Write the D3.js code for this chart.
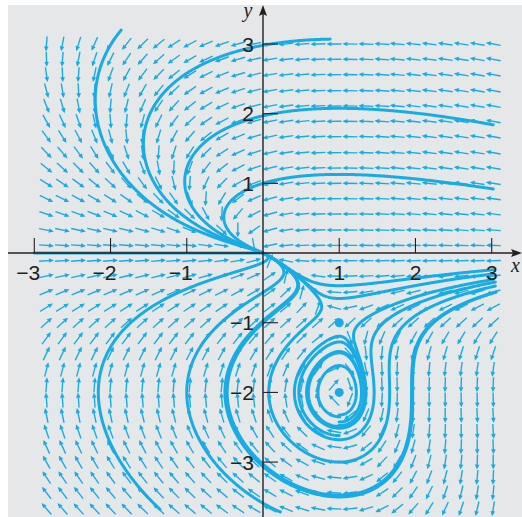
<!DOCTYPE html>
<html><head><meta charset="utf-8">
<script src="https://cdn.jsdelivr.net/npm/d3@7"></script>
<style>body{margin:0;background:#fff}svg{display:block}</style>
</head><body><svg id="c" width="522" height="517"></svg>
<script>
// ---- data ----
const xTicks = [-3, -2, -1, 1, 2, 3];
const yTicks = [-3, -2, -1, 1, 2, 3];
const gridX = [-2.84,-2.63,-2.42,-2.21,-2.00,-1.79,-1.58,-1.37,-1.17,-0.96,-0.75,-0.54,-0.33,-0.12,0.09,0.30,0.51,0.72,0.93,1.14,1.35,1.56,1.76,1.97,2.18,2.39,2.60,2.81,3.02];
const gridY = [3.00,2.78,2.56,2.33,2.11,1.89,1.67,1.44,1.22,1.00,0.78,0.56,0.33,0.11,-0.11,-0.33,-0.56,-0.78,-1.00,-1.22,-1.44,-1.67,-1.89,-2.11,-2.33,-2.56,-2.78,-3.00,-3.22,-3.44,-3.67];
const critX = [1, 1];
const critY = [-1, -2];
// solution curves: start point, pixels traced backward / forward, max turns round (1,-2)
const seedX     = [0.88, 3.02, 3.02, -1.86, -3.0, 3.02, 3.02, 3.02, -1.35, -1.0, -0.47, 1.0, 1.0, 1.0, 1.0, 1.0, 0.67];
const seedY     = [3.07, 1.84, 0.92, 3.20, 0.0, -0.24, -0.30, -0.38, -3.68, -2.0, -2.0, -3.0, -3.5, -2.35, -2.5, -2.62, -1.4];
const seedBack  = [0, 0, 0, 0, 0, 0, 0, 0, 0, 3000, 3000, 3000, 3000, 0, 0, 0, 3000];
const seedFwd   = [3000,3000,3000,3000,3000,3000,3000,3000,3000,3000,3000,3000,3000,3000,3000,3000,3000];
const seedTurns = [1, 1, 1, 1, 1, 1, 1, 1, 1, 1, 1, 1, 1, 1, 1, 1, 1];

// ---- system ----
function field(px, py) { return [-(py + 2) * (px + py), py * (px - 1)]; }

const svg = d3.select("#c");
const x = d3.scaleLinear().domain([-3, 3]).range([34.3, 491.7]);
const y = d3.scaleLinear().domain([-3, 3]).range([462.1, 44]);
const sx = (x(1) - x(0)), sy = (y(0) - y(1));
const blue = "#19ace4";

svg.append("rect").attr("x", 8).attr("y", 5).attr("width", 514).attr("height", 512).attr("fill", "#e6e7e9");

// ---- direction field ----
const gArr = svg.append("g");
const L = 15;
gridY.forEach(gy => gridX.forEach(gx => {
  const [u, v] = field(gx, gy);
  const dx = u * sx, dy = -v * sy;
  const m = Math.hypot(dx, dy);
  if (m < 1e-9) return;
  const ux = dx / m, uy = dy / m;
  const cx = x(gx), cy = y(gy);
  const x1 = cx - ux * L / 2, y1 = cy - uy * L / 2, x2 = cx + ux * L / 2, y2 = cy + uy * L / 2;
  gArr.append("line").attr("x1", x1).attr("y1", y1).attr("x2", x2 - ux * 2).attr("y2", y2 - uy * 2)
    .attr("stroke", blue).attr("stroke-width", 1.4);
  const hl = 5, hw = 2.3;
  const bx = x2 - ux * hl, by = y2 - uy * hl;
  gArr.append("path").attr("d", `M${x2},${y2}L${bx - uy * hw},${by + ux * hw}L${bx + uy * hw},${by - ux * hw}Z`)
    .attr("fill", blue);
}));

// ---- solution curves (RK4 in screen arc length) ----
function g(p, s) {
  const [u, v] = field(p[0], p[1]);
  const m = Math.hypot(u * sx, v * sy);
  if (m < 1e-12) return [0, 0];
  return [s * u / m, s * v / m];
}
function trace(x0, y0, s, maxLen, turns) {
  const pts = [[x0, y0]];
  let p = [x0, y0];
  const h = 1;
  let ang = Math.atan2(y0 + 2, x0 - 1), acc = 0;
  for (let i = 0; i < maxLen; i++) {
    const k1 = g(p, s);
    const k2 = g([p[0] + h / 2 * k1[0], p[1] + h / 2 * k1[1]], s);
    const k3 = g([p[0] + h / 2 * k2[0], p[1] + h / 2 * k2[1]], s);
    const k4 = g([p[0] + h * k3[0], p[1] + h * k3[1]], s);
    p = [p[0] + h / 6 * (k1[0] + 2 * k2[0] + 2 * k3[0] + k4[0]), p[1] + h / 6 * (k1[1] + 2 * k2[1] + 2 * k3[1] + k4[1])];
    if (p[0] > 3.06 || p[0] < -3.3 || p[1] < -3.72 || p[1] > 3.25) break;
    pts.push(p);
    if (Math.hypot(p[0] * sx, p[1] * sy) < 1.2) { pts.push([0, 0]); break; }
    if (turns > 0) {
      const a = Math.atan2(p[1] + 2, p[0] - 1);
      let d = a - ang; if (d > Math.PI) d -= 2 * Math.PI; if (d < -Math.PI) d += 2 * Math.PI;
      acc += d; ang = a;
      if (Math.abs(acc) >= 2 * Math.PI * turns) break;
    }
  }
  return pts;
}
const line = d3.line().x(d => x(d[0])).y(d => y(d[1])).curve(d3.curveLinear);
const gCur = svg.append("g");
seedX.forEach((sx0, i) => {
  const back = seedBack[i] > 0 ? trace(sx0, seedY[i], -1, seedBack[i], seedTurns[i]).reverse() : [];
  const fwd = trace(sx0, seedY[i], 1, seedFwd[i], seedTurns[i]);
  const pts = back.concat(fwd.slice(back.length ? 1 : 0));
  gCur.append("path").attr("d", line(pts)).attr("fill", "none").attr("stroke", blue)
    .attr("stroke-width", 3).attr("stroke-linejoin", "round").attr("stroke-linecap", "round");
});

// ---- axes ----
const ax = svg.append("g").attr("stroke", "#231f20");
ax.append("line").attr("x1", 8).attr("y1", y(0)).attr("x2", 516).attr("y2", y(0)).attr("stroke-width", 1.4);
ax.append("path").attr("d", `M522,${y(0)}L511,${y(0) - 4}L513,${y(0)}L511,${y(0) + 4}Z`).attr("fill", "#231f20").attr("stroke", "none");
ax.append("line").attr("x1", x(0)).attr("y1", 517).attr("x2", x(0)).attr("y2", 10).attr("stroke-width", 1.4);
ax.append("path").attr("d", `M${x(0)},5L${x(0) - 4},16L${x(0)},14L${x(0) + 4},16Z`).attr("fill", "#231f20").attr("stroke", "none");
xTicks.forEach(t => ax.append("line").attr("x1", x(t)).attr("x2", x(t)).attr("y1", y(0)).attr("y2", y(0) - 15).attr("stroke-width", 1.1));
yTicks.forEach(t => ax.append("line").attr("x1", x(0)).attr("x2", x(0) + 15).attr("y1", y(t)).attr("y2", y(t)).attr("stroke-width", 1.1));

const fmt = t => (t < 0 ? "\u2212" : "") + Math.abs(t);
const lab = svg.append("g").attr("font-family", "Liberation Sans, Arial, sans-serif").attr("font-size", 21).attr("fill", "#231f20");
xTicks.forEach(t => lab.append("text").attr("x", x(t) + 6).attr("y", y(0) + 27).attr("text-anchor", "end").text(fmt(t)));
yTicks.forEach(t => lab.append("text").attr("x", x(0) - 9).attr("y", y(t) + 7.5).attr("text-anchor", "end").text(fmt(t)));
const it = svg.append("g").attr("font-family", "Liberation Serif, Times New Roman, serif").attr("font-style", "italic").attr("font-size", 20).attr("fill", "#231f20");
it.append("text").attr("x", 248).attr("y", 17).attr("text-anchor", "middle").text("y");
it.append("text").attr("x", 511).attr("y", 272).text("x");

// ---- critical points ----
critX.forEach((cx, i) => svg.append("circle").attr("cx", x(cx)).attr("cy", y(critY[i])).attr("r", 4.5).attr("fill", blue));
</script></body></html>
